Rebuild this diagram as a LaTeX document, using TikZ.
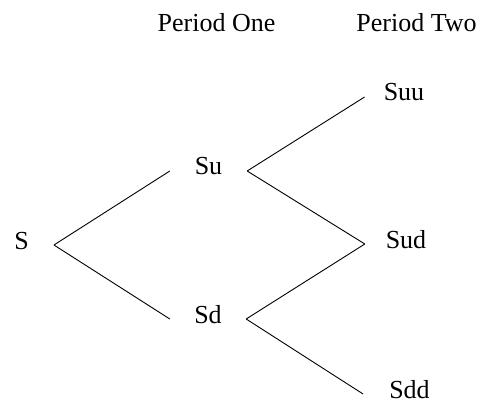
\documentclass[tikz,border=0pt]{standalone}
\usepackage{fontspec}
\setmainfont{Liberation Serif}
\begin{document}
\begin{tikzpicture}[x=1pt,y=-1pt,
  lbl/.style={font=\fontsize{26}{30}\selectfont, text height=17pt, text depth=9pt, inner ysep=0pt},
  hdr/.style={font=\fontsize{26}{30}\selectfont, inner sep=0pt, anchor=base},
  branch/.style={line width=0.9pt, black}]
\useasboundingbox (0,0) rectangle (481,403);
\node[hdr] (p1) at (216.5,32) {Period One};
\node[hdr] (p2) at (416.5,32) {Period Two};
\node[lbl, inner xsep=25pt] (S) at (21.5,245) {S};
\node[lbl, inner xsep=24.75pt] (Su) at (208.5,171) {Su};
\node[lbl, inner xsep=24.25pt] (Sd) at (208,319) {Sd};
\node[lbl, inner xsep=19pt] (Suu) at (404,97) {Suu};
\node[lbl, inner xsep=20.75pt] (Sud) at (406,244) {Sud};
\node[lbl, inner xsep=26pt] (Sdd) at (409.5,394) {Sdd};
\draw[branch] (S.east) -- (Su.west);
\draw[branch] (S.east) -- (Sd.west);
\draw[branch] (Su.east) -- (Suu.west);
\draw[branch] (Su.east) -- (Sud.west);
\draw[branch] (Sd.east) -- (Sud.west);
\draw[branch] (Sd.east) -- (Sdd.west);
\end{tikzpicture}
\end{document}
